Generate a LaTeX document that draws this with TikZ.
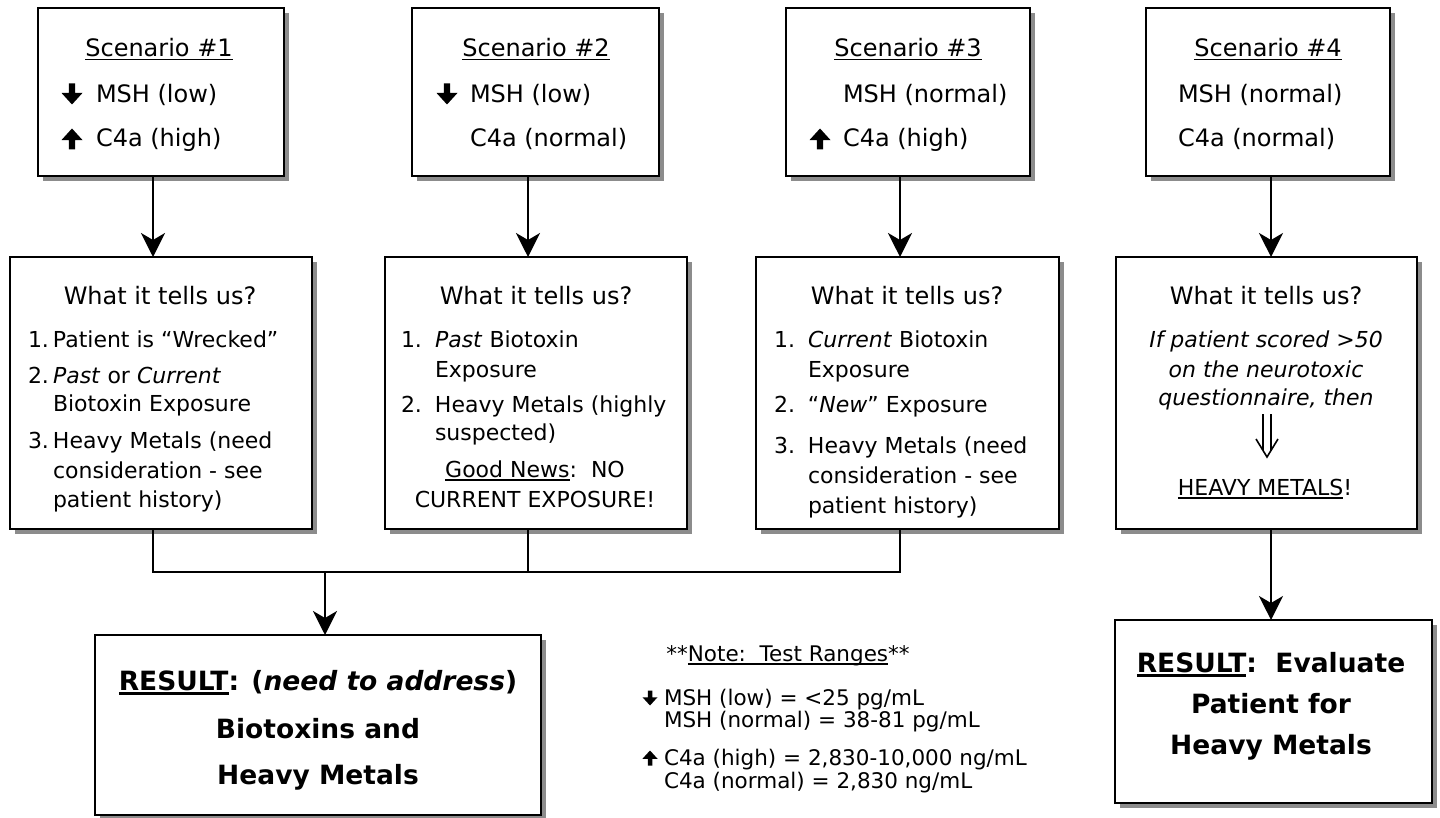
\documentclass[tikz,border=0pt]{standalone}
\usepackage{fontspec}
\setmainfont{DejaVu Sans}
\usetikzlibrary{arrows.meta,shadows}
\newcommand\myul[1]{\setbox0=\hbox{#1}\rlap{\rule[-3.5pt]{\wd0}{1.7pt}}\box0}
\newcommand\myulb[1]{\setbox0=\hbox{#1}\rlap{\rule[-4.5pt]{\wd0}{2.6pt}}\box0}
\newcommand\fatarrow[4]{%
  \fill[black, shift={(#1,#2)}, xscale=#3, yscale=#3*#4] (-0.15,-0.5) -- (0.15,-0.5) -- (0.15,-0.05) -- (0.5,-0.05) -- (0,0.5) -- (-0.5,-0.05) -- (-0.15,-0.05) -- cycle;}
\newcommand\fmain{\fontsize{22}{26}\selectfont}
\newcommand\ftop{\fontsize{24}{28}\selectfont}
\newcommand\fnote{\fontsize{21.5}{25}\selectfont}
\newcommand\fres{\fontsize{26.5}{30}\selectfont\bfseries}
\begin{document}
\begin{tikzpicture}[x=1pt, y=-1pt,
  box/.style={draw=black, line width=2.4pt, fill=white, inner sep=0pt, outer sep=0pt,
    drop shadow={shadow xshift=5pt, shadow yshift=-5pt, fill=black!45, opacity=1}},
  tx/.style={inner sep=0pt, outer sep=0pt, text=black},
  lt/.style={tx, anchor=base west},
  ct/.style={tx, anchor=base},
  conn/.style={draw=black, line width=1.7pt},
  arr/.style={conn, -{Stealth[length=24pt,width=24pt,inset=7pt]}}]
\fill[white] (0,0) rectangle (1440,818);
\useasboundingbox (0,0) rectangle (1440,818);

% ---------- boxes ----------
\node[box, minimum width=246pt, minimum height=168pt] (top1) at (161,92) {};
\node[box, minimum width=247pt, minimum height=168pt] (top2) at (535.5,92) {};
\node[box, minimum width=244pt, minimum height=168pt] (top3) at (908,92) {};
\node[box, minimum width=244pt, minimum height=168pt] (top4) at (1268,92) {};
\node[box, minimum width=302pt, minimum height=272pt] (midA) at (161,393) {};
\node[box, minimum width=302pt, minimum height=272pt] (midB) at (536,393) {};
\node[box, minimum width=303pt, minimum height=272pt] (midC) at (907.5,393) {};
\node[box, minimum width=301pt, minimum height=272pt] (midD) at (1266.5,393) {};
\node[box, minimum width=446pt, minimum height=180pt] (res1) at (318,725) {};
\node[box, minimum width=317pt, minimum height=183pt] (res2) at (1273.5,711.5) {};

% ---------- connectors ----------
\coordinate (j1) at (153,0);
\coordinate (j2) at (528,0);
\coordinate (j3) at (900,0);
\coordinate (j4) at (1271,0);
\coordinate (bus1) at (153,572);
\coordinate (bus3) at (900,572);
\coordinate (busr) at (325,572);
\draw[arr] (top1.south -| j1) -- (midA.north -| j1);
\draw[arr] (top2.south -| j2) -- (midB.north -| j2);
\draw[arr] (top3.south -| j3) -- (midC.north -| j3);
\draw[arr] (top4.south -| j4) -- (midD.north -| j4);
\draw[conn] (midA.south -| bus1) -- (bus1) -- (bus3) -- (midC.south -| bus3);
\draw[conn] (midB.south -| j2) -- (j2 |- bus1);
\draw[arr] (busr) -- (res1.north -| busr);
\draw[arr] (midD.south -| j4) -- (res2.north -| j4);

% ---------- top box texts ----------
\node[ct, font=\ftop] (s1) at (159,57) {\myul{Scenario \#1}};
\node[lt, font=\ftop] (m1) at (96,103) {MSH (low)};
\node[lt, font=\ftop] (k1) at (96,147) {C4a (high)};
\fatarrow{72}{94}{21}{1}
\fatarrow{72}{139}{21}{-1}

\node[ct, font=\ftop] (s2) at (536,57) {\myul{Scenario \#2}};
\node[lt, font=\ftop] (m2) at (470,103) {MSH (low)};
\node[lt, font=\ftop] (k2) at (470,147) {C4a (normal)};
\fatarrow{447}{94}{21}{1}

\node[ct, font=\ftop] (s3) at (908,57) {\myul{Scenario \#3}};
\node[lt, font=\ftop] (m3) at (843,103) {MSH (normal)};
\node[lt, font=\ftop] (k3) at (843,147) {C4a (high)};
\fatarrow{820}{139}{21}{-1}

\node[ct, font=\ftop] (s4) at (1268,57) {\myul{Scenario \#4}};
\node[lt, font=\ftop] (m4) at (1178,103) {MSH (normal)};
\node[lt, font=\ftop] (k4) at (1178,147) {C4a (normal)};

% ---------- box A ----------
\node[ct, font=\ftop] (ha) at (160,305) {What it tells us?};
\node[lt, font=\fmain] (a1) at (28,347) {\makebox[25pt][l]{1.}Patient is “Wrecked”};
\node[lt, font=\fmain] (a2) at (28,383) {\makebox[25pt][l]{2.}\textit{Past} or \textit{Current}};
\node[lt, font=\fmain] (a3) at (53,411) {Biotoxin Exposure};
\node[lt, font=\fmain] (a4) at (28,448) {\makebox[25pt][l]{3.}Heavy Metals (need};
\node[lt, font=\fmain] (a5) at (53,478) {consideration - see};
\node[lt, font=\fmain] (a6) at (53,507) {patient history)};

% ---------- box B ----------
\node[ct, font=\ftop] (hb) at (536,305) {What it tells us?};
\node[lt, font=\fmain] (b1) at (401,347) {\makebox[34pt][l]{1.}\textit{Past} Biotoxin};
\node[lt, font=\fmain] (b2) at (435,377) {Exposure};
\node[lt, font=\fmain] (b3) at (401,412) {\makebox[34pt][l]{2.}Heavy Metals (highly};
\node[lt, font=\fmain] (b4) at (435,440) {suspected)};
\node[ct, font=\fmain] (b5) at (535,477) {\myul{Good News}:\ \ NO};
\node[ct, font=\fmain] (b6) at (535,507) {CURRENT EXPOSURE!};

% ---------- box C ----------
\node[ct, font=\ftop] (hc) at (907,305) {What it tells us?};
\node[lt, font=\fmain] (c1) at (774,347) {\makebox[34pt][l]{1.}\textit{Current} Biotoxin};
\node[lt, font=\fmain] (c2) at (808,377) {Exposure};
\node[lt, font=\fmain] (c3) at (774,412) {\makebox[34pt][l]{2.}“\textit{New}” Exposure};
\node[lt, font=\fmain] (c4) at (774,453) {\makebox[34pt][l]{3.}Heavy Metals (need};
\node[lt, font=\fmain] (c5) at (808,483) {consideration - see};
\node[lt, font=\fmain] (c6) at (808,513) {patient history)};

% ---------- box D ----------
\node[ct, font=\ftop] (hd) at (1266,305) {What it tells us?};
\node[ct, font=\fmain\itshape] (d1) at (1266,347) {If patient scored >50};
\node[ct, font=\fmain\itshape] (d2) at (1266,377) {on the neurotoxic};
\node[ct, font=\fmain\itshape] (d3) at (1266,405) {questionnaire, then};
\draw[black, line width=1.6pt] (1263,414) -- (1263,450);
\draw[black, line width=1.6pt] (1271,414) -- (1271,450);
\draw[black, line width=1.6pt, line join=miter] (1256,439) -- (1267,457) -- (1278,439);
\node[ct, font=\fmain] (d4) at (1265,495) {\myul{HEAVY METALS}!};

% ---------- results ----------
\node[ct, font=\fres] (r1a) at (318,690) {\myulb{RESULT}: (\textit{need to address})};
\node[ct, font=\fres] (r1b) at (318,738) {Biotoxins and};
\node[ct, font=\fres] (r1c) at (318,784) {Heavy Metals};

\node[ct, font=\fres] (r2a) at (1271,672) {\myulb{RESULT}:\ \ Evaluate};
\node[ct, font=\fres] (r2b) at (1271,713) {Patient for};
\node[ct, font=\fres] (r2c) at (1271,754) {Heavy Metals};

% ---------- note ----------
\node[ct, font=\fnote] (n0) at (788,661) {**\myul{Note:\ \ Test Ranges}**};
\node[lt, font=\fnote] (n1) at (664,705) {MSH (low) = <25 pg/mL};
\node[lt, font=\fnote] (n2) at (664,727) {MSH (normal) = 38-81 pg/mL};
\node[lt, font=\fnote] (n3) at (664,765) {C4a (high) = 2,830-10,000 ng/mL};
\node[lt, font=\fnote] (n4) at (664,788) {C4a (normal) = 2,830 ng/mL};
\fatarrow{650}{698}{15}{1}
\fatarrow{650}{758}{15}{-1}
\end{tikzpicture}
\end{document}
